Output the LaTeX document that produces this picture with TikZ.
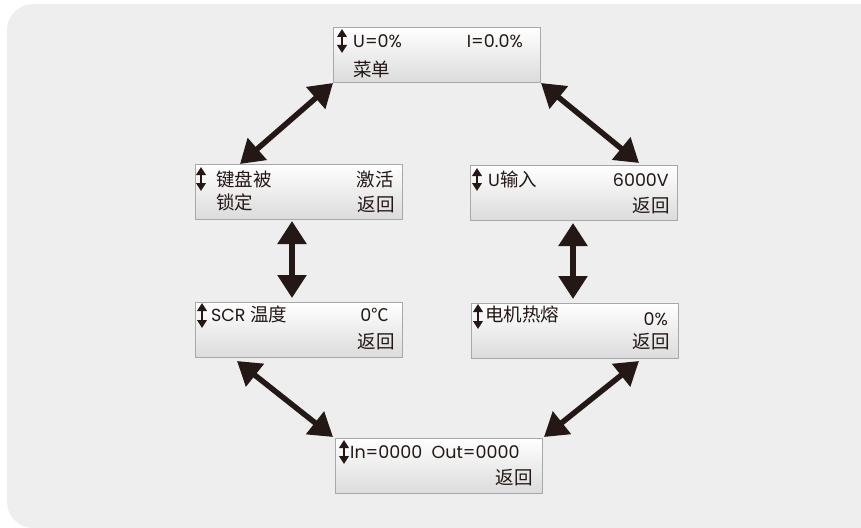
\documentclass[tikz,border=0pt]{standalone}
\usepackage{fontspec}
\setmainfont{Poppins}
\newfontfamily\cjk{Noto Sans CJK SC}
\usetikzlibrary{arrows.meta}
\definecolor{ink}{HTML}{231815}
\definecolor{bg}{HTML}{EEEEEE}
\definecolor{frame}{HTML}{A8A8A8}
\begin{document}
\begin{tikzpicture}[x=1pt,y=-1pt,
  box/.style={draw=frame, line width=1pt, top color=white, bottom color=black!14,
    minimum width=207pt, minimum height=55pt, anchor=north west, inner sep=0pt},
  lat/.style={inner sep=0pt, text=ink, font=\fontsize{17.5}{20}\selectfont},
  han/.style={inner sep=0pt, text=ink, font=\fontsize{18.5}{20}\cjk},
  big/.style={draw=ink, line width=5.5pt,
    {Triangle[length=23pt,width=28pt]}-{Triangle[length=23pt,width=28pt]}},
  ud/.style={draw=ink, line width=2.4pt,
    {Triangle[length=8pt,width=9.5pt]}-{Triangle[length=8pt,width=9.5pt]}}]
\useasboundingbox (0,0) rectangle (861,527);
\fill[bg, rounded corners=26pt] (7,4) rectangle (885,528);

% boxes
\node[box] (top) at (333,27) {};
\node[box] (L1) at (195,164) {};
\node[box] (R1) at (470,165) {};
\node[box] (L2) at (195,302) {};
\node[box] (R2) at (471,303) {};
\node[box] (B)  at (335,438) {};

% top box texts
\draw[ud] (342,29) -- (342,53);
\node[lat, anchor=base west] (t1) at (353,48) {U=0\%};
\node[lat, anchor=base east] (t2) at (523,48) {I=0.0\%};
\node[han, anchor=base west] (t3) at (353,76) {菜单};

% L1
\draw[ud] (201,167) -- (201,191);
\node[han, anchor=base west] (l1a) at (216,186) {键盘被};
\node[han, anchor=base east] (l1b) at (394,186) {激活};
\node[han, anchor=base west] (l1c) at (216,209) {锁定};
\node[han, anchor=base east] (l1d) at (395,211) {返回};

% R1
\draw[ud] (477,168) -- (477,191);
\node[lat, anchor=base west] (r1a) at (488,186) {U{\fontsize{18.5}{20}\cjk 输入}};
\node[lat, anchor=base east] (r1b) at (669,186) {6000V};
\node[han, anchor=base east] (r1c) at (670,212) {返回};

% L2
\draw[ud] (202,303) -- (202,328);
\node[lat, anchor=base west] (l2a) at (211,321) {SCR {\fontsize{18.5}{20}\cjk 温度}};
\node[lat, anchor=base east] (l2b) at (389,321) {0{\cjk ℃}};
\node[han, anchor=base east] (l2c) at (395,348) {返回};

% R2
\draw[ud] (478,304) -- (478,329);
\node[han, anchor=base west] (r2a) at (485,321) {电机热熔};
\node[lat, anchor=base east] (r2b) at (668,325) {0\%};
\node[han, anchor=base east] (r2c) at (670,348) {返回};

% B
\draw[ud] (344,440) -- (344,464);
\node[lat, anchor=base west] (b1) at (350,458) {In=0000\ \ Out=0000};
\node[han, anchor=base east] (b2) at (533,484) {返回};

% connectors
\draw[big] (top.south west) -- ([xshift=45pt]L1.north west);
\draw[big] (top.south east) -- ([xshift=-39pt,yshift=2pt]R1.north east);
\draw[big] ([xshift=97pt,yshift=-1pt]L1.south west) -- ([xshift=97pt,yshift=4pt]L2.north west);
\draw[big] ([xshift=103pt,yshift=-2pt]R1.south west) -- ([xshift=102pt,yshift=4pt]R2.north west);
\draw[big] ([xshift=42pt,yshift=-3pt]L2.south west) -- ([xshift=-2pt,yshift=1pt]B.north west);
\draw[big] ([xshift=1pt,yshift=1pt]B.north east) -- ([xshift=-40pt,yshift=-2pt]R2.south east);
\end{tikzpicture}
\end{document}
